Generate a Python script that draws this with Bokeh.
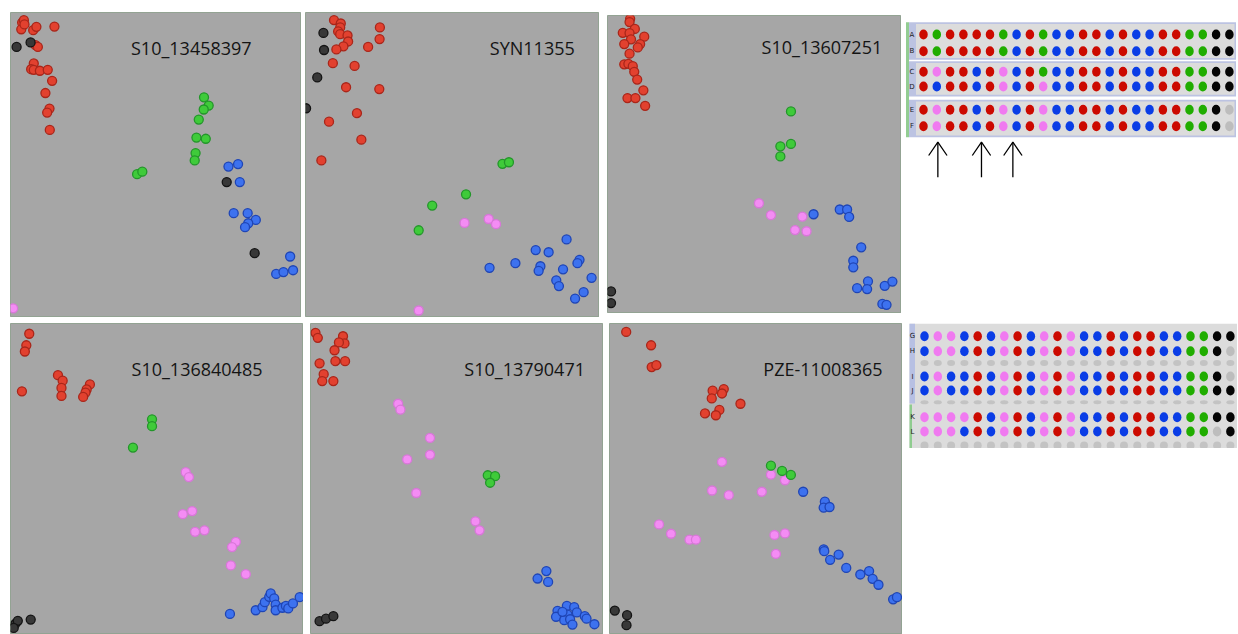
import numpy as np
from bokeh.plotting import figure
from bokeh.layouts import row, column
from bokeh.models import Range1d, ColumnDataSource
from bokeh.embed import file_html
from bokeh.resources import INLINE
from bokeh.core.properties import value

# ---------------- Cluster plots: normalized allele intensities ----------------
# genotype codes: R = red, G = green, B = blue, P = pink, K = black (no call)
m1_name = "S10_13458397"
m1_x = [0.040, 0.046, 0.037, 0.048, 0.078, 0.089, 0.086, 0.094, 0.080, 0.071, 0.080, 0.101, 0.128, 0.143, 0.120, 0.134, 0.126, 0.135, 0.151,
        0.021, 0.069, 0.743, 0.839,
        0.665, 0.681, 0.664, 0.647, 0.639, 0.671, 0.636, 0.633, 0.435, 0.453,
        0.749, 0.782, 0.788, 0.767, 0.815, 0.843, 0.817, 0.806, 0.961, 0.913, 0.938, 0.971,
        0.009]
m1_y = [0.967, 0.975, 0.945, 0.961, 0.942, 0.953, 0.893, 0.887, 0.833, 0.814, 0.812, 0.809, 0.812, 0.776, 0.736, 0.685, 0.672, 0.615, 0.954,
        0.887, 0.902, 0.444, 0.211,
        0.722, 0.695, 0.682, 0.649, 0.590, 0.586, 0.539, 0.515, 0.470, 0.478,
        0.495, 0.503, 0.444, 0.342, 0.342, 0.320, 0.309, 0.296, 0.200, 0.143, 0.149, 0.155,
        0.030]
m1_g = "RRRRRRRRRRRRRRRRRRR" + "KKKK" + "GGGGGGGGGG" + "BBBBBBBBBBBB" + "P"

m2_name = "SYN11355"
m2_x = [0.097, 0.120, 0.118, 0.111, 0.118, 0.143, 0.145, 0.129, 0.105, 0.213, 0.253, 0.252, 0.093, 0.167, 0.138, 0.251, 0.175, 0.080, 0.190, 0.054,
        0.061, 0.063, 0.040, 0.002,
        0.670, 0.692, 0.546, 0.431, 0.385,
        0.541, 0.623, 0.648, 0.385,
        0.888, 0.783, 0.827, 0.932, 0.925, 0.799, 0.793, 0.876, 0.626, 0.714, 0.853, 0.862, 0.973, 0.946, 0.917]
m2_y = [0.975, 0.964, 0.951, 0.938, 0.929, 0.925, 0.905, 0.889, 0.879, 0.887, 0.951, 0.913, 0.834, 0.825, 0.755, 0.749, 0.670, 0.642, 0.583, 0.515,
        0.933, 0.877, 0.787, 0.686,
        0.504, 0.509, 0.404, 0.367, 0.286,
        0.310, 0.323, 0.306, 0.023,
        0.256, 0.221, 0.214, 0.189, 0.178, 0.168, 0.153, 0.158, 0.163, 0.178, 0.122, 0.103, 0.130, 0.083, 0.062]
m2_g = "RRRRRRRRRRRRRRRRRRRR" + "KKKK" + "GGGGG" + "PPPP" + "BBBBBBBBBBBBBBB"

m3_name = "S10_13607251"
m3_x = [0.077, 0.075, 0.093, 0.052, 0.075, 0.125, 0.080, 0.057, 0.111, 0.103, 0.075, 0.057, 0.071, 0.086, 0.091, 0.101, 0.122, 0.068, 0.095, 0.128,
        0.624, 0.624, 0.588, 0.588,
        0.515, 0.556, 0.663, 0.638, 0.677,
        0.701, 0.790, 0.815, 0.822, 0.863, 0.836, 0.836, 0.886, 0.849, 0.883, 0.943, 0.969, 0.935, 0.949,
        0.012, 0.012]
m3_y = [0.989, 0.978, 0.955, 0.942, 0.941, 0.929, 0.920, 0.904, 0.904, 0.893, 0.872, 0.836, 0.838, 0.830, 0.811, 0.785, 0.749, 0.723, 0.723, 0.697,
        0.678, 0.569, 0.561, 0.527,
        0.370, 0.330, 0.325, 0.280, 0.276,
        0.333, 0.349, 0.349, 0.324, 0.222, 0.177, 0.155, 0.108, 0.085, 0.082, 0.093, 0.107, 0.032, 0.029,
        0.074, 0.035]
m3_g = "RRRRRRRRRRRRRRRRRRRR" + "GGGG" + "PPPPP" + "BBBBBBBBBBBBBB" + "KK"

m4_name = "S10_136840485"
m4_x = [0.064, 0.054, 0.049, 0.039, 0.162, 0.178, 0.174, 0.174, 0.271, 0.260, 0.256, 0.248,
        0.483, 0.483, 0.418,
        0.598, 0.609, 0.588, 0.620, 0.630, 0.662, 0.769, 0.756, 0.752, 0.803,
        0.749, 0.837, 0.860, 0.868, 0.883, 0.888, 0.900, 0.905, 0.905, 0.928, 0.940, 0.948, 0.964, 0.987,
        0.017, 0.025, 0.069, 0.011]
m4_y = [0.967, 0.930, 0.910, 0.782, 0.834, 0.816, 0.793, 0.767, 0.804, 0.788, 0.778, 0.764,
        0.692, 0.670, 0.601,
        0.522, 0.506, 0.387, 0.397, 0.330, 0.335, 0.298, 0.281, 0.222, 0.194,
        0.066, 0.078, 0.088, 0.104, 0.121, 0.132, 0.116, 0.096, 0.078, 0.086, 0.092, 0.084, 0.100, 0.120,
        0.035, 0.044, 0.048, 0.021]
m4_g = "RRRRRRRRRRRR" + "GGG" + "PPPPPPPPPP" + "BBBBBBBBBBBBBB" + "KKKK"

m5_name = "S10_13790471"
m5_x = [0.017, 0.025, 0.111, 0.116, 0.097, 0.082, 0.031, 0.085, 0.118, 0.045, 0.040, 0.078,
        0.299, 0.307, 0.408, 0.408, 0.330, 0.361, 0.563, 0.577,
        0.605, 0.630, 0.613,
        0.805, 0.775, 0.811, 0.843, 0.838, 0.875, 0.900, 0.909, 0.877, 0.866, 0.886, 0.894, 0.936, 0.942, 0.969, 0.860,
        0.031, 0.053, 0.078]
m5_y = [0.970, 0.954, 0.959, 0.936, 0.939, 0.914, 0.872, 0.879, 0.879, 0.837, 0.815, 0.815,
        0.742, 0.723, 0.632, 0.578, 0.563, 0.455, 0.364, 0.335,
        0.512, 0.509, 0.488,
        0.204, 0.180, 0.169, 0.076, 0.057, 0.092, 0.088, 0.071, 0.064, 0.046, 0.049, 0.032, 0.059, 0.051, 0.033, 0.073,
        0.043, 0.051, 0.059]
m5_g = "RRRRRRRRRRRR" + "PPPPPPPP" + "GGG" + "BBBBBBBBBBBBBBBB" + "KKK"

m6_name = "PZE-11008365"
m6_x = [0.057, 0.142, 0.144, 0.160, 0.352, 0.390, 0.384, 0.349, 0.447, 0.326, 0.375, 0.363,
        0.384, 0.350, 0.407, 0.520, 0.551, 0.599, 0.169, 0.210, 0.273, 0.295, 0.563, 0.599, 0.568,
        0.551, 0.589, 0.619,
        0.661, 0.735, 0.731, 0.751, 0.731, 0.733, 0.753, 0.782, 0.808, 0.856, 0.886, 0.898, 0.918, 0.968, 0.981,
        0.018, 0.060, 0.058]
m6_y = [0.973, 0.930, 0.860, 0.866, 0.784, 0.789, 0.775, 0.759, 0.742, 0.711, 0.722, 0.705,
        0.555, 0.463, 0.448, 0.459, 0.514, 0.496, 0.354, 0.324, 0.305, 0.305, 0.320, 0.325, 0.259,
        0.543, 0.526, 0.513,
        0.459, 0.427, 0.408, 0.410, 0.274, 0.268, 0.240, 0.257, 0.214, 0.193, 0.204, 0.179, 0.160, 0.113, 0.120,
        0.077, 0.062, 0.030]
m6_g = "RRRRRRRRRRRR" + "PPPPPPPPPPPPP" + "GGG" + "BBBBBBBBBBBBBBB" + "KKK"

# ---------------- Genotype call grids ----------------
grid_cols = list(range(1, 25))
top_rows = ["A", "B", "C", "D", "E", "F"]
top_calls = ["RGRRRRGBRGBBRRBRBBRRGGKK",
             "RGRRRRGBRGBBRRBRBBRRGGKK",
             "RPRRBRPBRGBBRRBRBBRRGGKK",
             "RBRRBRPBRPBBRRBRBBRRGGKK",
             "RPRRBRPBRPBBRRBRBBRRGGKL",
             "RPRRBRPBRPBBRRBRBBRRGGKL"]
bottom_rows = ["G", "H", "I", "J", "K", "L"]
bottom_calls = ["BPPBRBPRBPRPBBRBRRBBGGKK",
                "BPPBRBPRBPRPBBRBRRBBGGKL",
                "BPBBRBPRBPRPBBRBRRBBGGKL",
                "BPBBRBPRBPRPBBRBRRBBGGKK",
                "PPPPRBPRBPRPBBRBRRBBGGKK",
                "PPPBRBPRBPRPBBRBRRBBGGLK"]
arrow_cols = [2.08, 5.36, 7.72]

# ---------------- styling ----------------
FILL = {"R": "#e2412f", "G": "#3fcb3a", "B": "#3d72ef", "P": "#f48cf4", "K": "#383838"}
EDGE = {"R": "#a9261a", "G": "#23962a", "B": "#1f45b5", "P": "#d877d8", "K": "#141414"}
CALL = {"R": "#cc0a00", "G": "#20ad00", "B": "#0a3de6", "P": "#f07af0", "K": "#050505", "L": "#bdbdbd"}
FONT = value("Open Sans")


def cluster_panel(name, xs, ys, gs, w, h, tx, ty, margin):
    p = figure(width=w, height=h, x_range=Range1d(0, 1), y_range=Range1d(0, 1),
               x_axis_type=None, y_axis_type=None, toolbar_location=None,
               output_backend="svg", min_border=0, margin=margin,
               background_fill_color="#a6a6a6", border_fill_color="white",
               outline_line_color="#93a393", outline_line_width=1)
    src = ColumnDataSource(dict(x=xs, y=ys,
                                f=[FILL[g] for g in gs], e=[EDGE[g] for g in gs]))
    p.scatter("x", "y", source=src, size=9, marker="circle",
              fill_color="f", line_color="e", line_width=1.3)
    p.text(x=[tx], y=[ty], text=[name], text_font=FONT, text_font_size="18px",
           text_color="#141414", text_baseline="alphabetic", text_align="left")
    return p


def call_grid(h, ytop, ybot, margin):
    p = figure(width=332, height=h, x_range=Range1d(905, 1237), y_range=Range1d(ybot, ytop),
               x_axis_type=None, y_axis_type=None, toolbar_location=None,
               output_backend="svg", min_border=0, margin=margin,
               background_fill_color="white", border_fill_color="white",
               outline_line_color=None)
    p.extra_x_ranges = {"col": Range1d(-0.353, 24.61)}
    return p


f1 = cluster_panel(m1_name, m1_x, m1_y, m1_g, 291, 305, 0.414, 0.883, (12, 0, 1, 10))
f2 = cluster_panel(m2_name, m2_x, m2_y, m2_g, 294, 305, 0.627, 0.883, (12, 0, 1, 4))
f3 = cluster_panel(m3_name, m3_x, m3_y, m3_g, 294, 298, 0.524, 0.893, (15, 0, 0, 8))
f4 = cluster_panel(m4_name, m4_x, m4_y, m4_g, 293, 311, 0.413, 0.855, (5, 0, 0, 10))
f5 = cluster_panel(m5_name, m5_x, m5_y, m5_g, 293, 311, 0.525, 0.855, (5, 0, 0, 7))
f6 = cluster_panel(m6_name, m6_x, m6_y, m6_g, 293, 311, 0.525, 0.855, (5, 0, 0, 6))

# ---- top call grid ----
top_y = [34.0, 50.7, 71.3, 86.0, 109.3, 125.7]
g1 = call_grid(165, 15, 180, (15, 0, 0, 4))
g1.quad(left=[905.5], right=[908.5], top=[21.7], bottom=[136.7], fill_color="#92cd92", line_color=None)
g1.quad(left=[908.5] * 3, right=[1235.5] * 3, top=[21.7, 60.7, 99.3], bottom=[59.3, 96.0, 136.7],
        fill_color="#bcc3e2", line_color=None)
g1.quad(left=[915.5] * 3, right=[1234.0] * 3, top=[23.5, 62.5, 101.0], bottom=[57.5, 94.3, 135.0],
        fill_color="#dcdcdc", line_color=None)
for ry, calls in zip(top_y, top_calls):
    g1.ellipse(x=grid_cols, y=[ry] * 24, width=0.64, height=10, x_range_name="col",
               fill_color=[CALL[c] for c in calls], line_color=None)
g1.text(x=[911.5] * 6, y=top_y, text=top_rows, text_font=value("DejaVu Sans"), text_font_size="7px",
        text_color="#222222", text_align="center", text_baseline="middle")
g1.multi_line(xs=[[c, c] for c in arrow_cols], ys=[[141.7, 176.7]] * 3, x_range_name="col",
              line_color="black", line_width=1.3)
g1.multi_line(xs=[[c - 0.69, c, c + 0.69] for c in arrow_cols], ys=[[155.0, 141.7, 155.0]] * 3,
              x_range_name="col", line_color="black", line_width=1.3)

# ---- bottom call grid ----
bot_y = [335.7, 350.7, 376.0, 390.0, 416.7, 431.0]
gap_y = [362.5, 401.7, 445.0]
g2 = call_grid(125, 323, 448, (5, 0, 0, 4))
g2.quad(left=[908], right=[1235.5], top=[323], bottom=[448], fill_color="#dcdcdc", line_color=None)
g2.quad(left=[908], right=[913.5], top=[323], bottom=[403], fill_color="#b7c0e3", line_color=None)
g2.quad(left=[908], right=[910.5], top=[404], bottom=[448], fill_color="#8fcc8f", line_color=None)
for gy, gh in zip(gap_y, [6, 4, 8]):
    g2.ellipse(x=grid_cols, y=[gy] * 24, width=0.6, height=gh, x_range_name="col",
               fill_color="#c3c3c3", line_color=None)
for ry, calls in zip(bot_y, bottom_calls):
    g2.ellipse(x=grid_cols, y=[ry] * 24, width=0.64, height=10, x_range_name="col",
               fill_color=[CALL[c] for c in calls], line_color=None)
g2.text(x=[911] * 6, y=bot_y, text=bottom_rows, text_font=value("DejaVu Sans"), text_font_size="7px",
        text_color="#222222", text_align="center", text_baseline="middle")

layout = column(row(f1, f2, f3, g1), row(f4, f5, f6, g2))

with open("out.html", "w") as fh:
    fh.write(file_html(layout, INLINE))
